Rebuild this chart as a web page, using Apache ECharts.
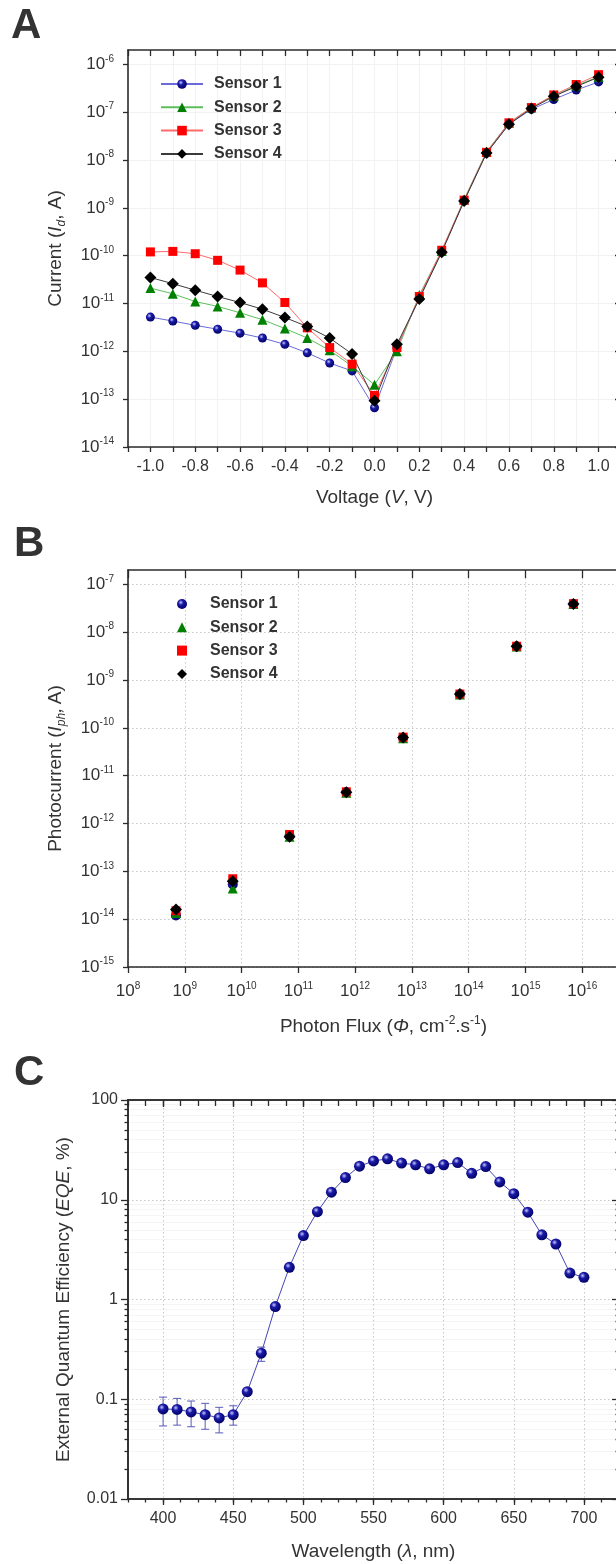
<!DOCTYPE html>
<html>
<head>
<meta charset="utf-8">
<script src="https://cdn.jsdelivr.net/npm/echarts@6/dist/echarts.min.js"></script>
<style>
  body { margin: 0; background: #fff; }
  #main { width: 616px; height: 1564px; }
</style>
</head>
<body>
<div id="main"></div>
<script>
// ---- panel A: dark current vs voltage
const voltage = [-1.0, -0.9, -0.8, -0.7, -0.6, -0.5, -0.4, -0.3, -0.2, -0.1, 0.0,
                 0.1, 0.2, 0.3, 0.4, 0.5, 0.6, 0.7, 0.8, 0.9, 1.0];
const sensor1Dark = [5.2e-12, 4.3e-12, 3.5e-12, 2.9e-12, 2.4e-12, 1.9e-12, 1.4e-12, 9.3e-13, 5.7e-13, 3.9e-13, 6.6e-14,
                     1.2e-12, 1.3e-11, 1.2e-10, 1.4e-9, 1.4e-8, 5.6e-8, 1.15e-7, 1.85e-7, 2.9e-7, 4.3e-7];
const sensor2Dark = [2.1e-11, 1.6e-11, 1.1e-11, 8.7e-12, 6.4e-12, 4.6e-12, 3.0e-12, 1.9e-12, 1.05e-12, 4.9e-13, 2.0e-13,
                     1.0e-12, 1.5e-11, 1.25e-10, 1.5e-9, 1.5e-8, 6.0e-8, 1.25e-7, 2.2e-7, 3.6e-7, 5.5e-7];
const sensor3Dark = [1.2e-10, 1.23e-10, 1.1e-10, 8.0e-11, 5.0e-11, 2.7e-11, 1.05e-11, 3.1e-12, 1.2e-12, 5.4e-13, 1.2e-13,
                     1.2e-12, 1.4e-11, 1.3e-10, 1.45e-9, 1.45e-8, 6.0e-8, 1.25e-7, 2.3e-7, 3.8e-7, 6.1e-7];
const sensor4Dark = [3.5e-11, 2.6e-11, 1.9e-11, 1.4e-11, 1.05e-11, 7.6e-12, 5.1e-12, 3.3e-12, 1.9e-12, 8.8e-13, 9.3e-14,
                     1.4e-12, 1.25e-11, 1.18e-10, 1.4e-9, 1.4e-8, 5.6e-8, 1.2e-7, 2.15e-7, 3.45e-7, 5.4e-7];
const currentTicks = [1e-14, 1e-13, 1e-12, 1e-11, 1e-10, 1e-9, 1e-8, 1e-7, 1e-6];

// ---- panel B: photocurrent vs photon flux
const photonFlux = [7e8, 7e9, 7e10, 7e11, 7e12, 7e13, 7e14, 7e15];
const sensor1Photo = [1.2e-14, 5.3e-14, 5.5e-13, 4.5e-12, 6.2e-11, 5.0e-10, 5.0e-9, 3.9e-8];
const sensor2Photo = [1.35e-14, 4.4e-14, 5.3e-13, 4.4e-12, 6.1e-11, 5.0e-10, 5.0e-9, 3.9e-8];
const sensor3Photo = [1.5e-14, 7.0e-14, 5.9e-13, 4.6e-12, 6.4e-11, 5.1e-10, 5.1e-9, 3.95e-8];
const sensor4Photo = [1.6e-14, 6.2e-14, 5.3e-13, 4.5e-12, 6.3e-11, 5.1e-10, 5.1e-9, 3.9e-8];
const photoTicks = [1e-15, 1e-14, 1e-13, 1e-12, 1e-11, 1e-10, 1e-9, 1e-8, 1e-7];
const fluxTicks = [1e8, 1e9, 1e10, 1e11, 1e12, 1e13, 1e14, 1e15, 1e16, 1e17];

// ---- panel C: EQE vs wavelength
const wavelength = [400, 410, 420, 430, 440, 450, 460, 470, 480, 490, 500, 510, 520, 530, 540, 550,
                    560, 570, 580, 590, 600, 610, 620, 630, 640, 650, 660, 670, 680, 690, 700];
const eqe = [0.080, 0.079, 0.0746, 0.070, 0.065, 0.070, 0.119, 0.29, 0.85, 2.1, 4.37, 7.6, 11.9, 16.7, 21.7, 24.5,
             25.7, 23.3, 22.4, 20.4, 22.4, 23.6, 18.4, 21.5, 15.1, 11.5, 7.5, 4.45, 3.6, 1.84, 1.67];
const errWavelength = [400, 410, 420, 430, 440, 450, 470];
const errLow = [0.054, 0.055, 0.053, 0.050, 0.046, 0.055, 0.24];
const errHigh = [0.105, 0.102, 0.096, 0.091, 0.083, 0.086, 0.333];
const eqeTicks = [0.01, 0.1, 1, 10, 100];
const eqeMinorTicks = [0.02, 0.03, 0.04, 0.05, 0.06, 0.07, 0.08, 0.09,
                       0.2, 0.3, 0.4, 0.5, 0.6, 0.7, 0.8, 0.9,
                       2, 3, 4, 5, 6, 7, 8, 9,
                       20, 30, 40, 50, 60, 70, 80, 90];
const wavelengthTicks = [400, 450, 500, 550, 600, 650, 700];

const FONT = 'Liberation Sans, Arial, sans-serif';
const AXIS_COLOR = '#2b2b2b';
const TEXT_COLOR = '#333';

function sphere(light, mid, dark) {
    return {
        type: 'radial', x: 0.38, y: 0.35, r: 0.7,
        colorStops: [{offset: 0, color: light}, {offset: 0.35, color: mid}, {offset: 1, color: dark}]
    };
}
const blueBall = sphere('#c8c8ff', '#1a1aa8', '#000060');

function pow10Label(v) {
    const lg = Math.log10(v);
    const e = Math.round(lg);
    if (Math.abs(lg - e) > 1e-6) return '';
    return '{b|10}{s|' + e + '}';
}
const powRich = {
    b: {fontSize: 17, fontFamily: FONT, color: TEXT_COLOR, lineHeight: 21},
    s: {fontSize: 10, fontFamily: FONT, color: TEXT_COLOR, verticalAlign: 'top', lineHeight: 10}
};
const nameRich = {
    n: {fontSize: 19, fontFamily: FONT, color: TEXT_COLOR, lineHeight: 24},
    i: {fontSize: 19, fontFamily: FONT, color: TEXT_COLOR, fontStyle: 'italic', lineHeight: 24},
    sub: {fontSize: 12, fontFamily: FONT, color: TEXT_COLOR, fontStyle: 'italic', verticalAlign: 'bottom', lineHeight: 12},
    sup: {fontSize: 12, fontFamily: FONT, color: TEXT_COLOR, verticalAlign: 'top', lineHeight: 12}
};

const axisLine = {show: true, onZero: false, lineStyle: {color: AXIS_COLOR, width: 1.6}};
const tickStyle = {color: AXIS_COLOR, width: 1.3};

function mirror(base, pos, extra) {
    return Object.assign({}, base, {
        position: pos,
        name: '',
        axisLabel: {show: false},
        splitLine: {show: false},
        minorTick: {show: false},
        axisTick: Object.assign({}, base.axisTick, {inside: true, length: 6})
    }, extra || {});
}

// panel A axes
const xA = {
    type: 'value', gridIndex: 0, min: -1.1, max: 1.1, interval: 0.1,
    axisLine: axisLine,
    axisTick: {show: true, length: 5, lineStyle: tickStyle},
    axisLabel: {
        margin: 12, fontSize: 16, fontFamily: FONT, color: TEXT_COLOR,
        formatter: v => {
            const k = Math.round(v * 10);
            if (k % 2 !== 0 || Math.abs(k) > 10) return '';
            return (k / 10).toFixed(1);
        }
    },
    splitLine: {show: true, lineStyle: {color: '#f2f2f2', width: 1}},
    name: '{n|Voltage (}{i|V}{n|, V)}', nameLocation: 'middle', nameGap: 39,
    nameTextStyle: {rich: nameRich}
};
const yA = {
    type: 'log', gridIndex: 0, min: 1e-14, max: 2e-6, position: 'left',
    axisLine: axisLine,
    axisTick: {show: true, length: 5, lineStyle: tickStyle, customValues: currentTicks},
    axisLabel: {margin: 14, customValues: currentTicks, formatter: pow10Label, rich: powRich},
    splitLine: {show: true, lineStyle: {color: '#f2f2f2', width: 1}},
    name: '{n|Current (}{i|I}{sub|d}{n|, A)}', nameLocation: 'middle', nameGap: 60,
    nameTextStyle: {rich: nameRich}
};

// panel B axes
const dotted = {show: true, lineStyle: {color: '#c8c8c8', width: 1, type: [1.5, 2.5]}};
const xB = {
    type: 'log', gridIndex: 1, min: 1e8, max: 1e17, position: 'bottom',
    axisLine: axisLine,
    axisTick: {show: true, length: 6, lineStyle: tickStyle, customValues: fluxTicks},
    axisLabel: {margin: 14, customValues: fluxTicks, formatter: pow10Label, rich: powRich},
    splitLine: dotted,
    name: '{n|Photon Flux (}{i|Φ}{n|, cm}{sup|-2}{n|.s}{sup|-1}{n|)}', nameLocation: 'middle', nameGap: 48,
    nameTextStyle: {rich: nameRich}
};
const yB = {
    type: 'log', gridIndex: 1, min: 1e-15, max: 2e-7, position: 'left',
    axisLine: axisLine,
    axisTick: {show: true, length: 5, lineStyle: tickStyle, customValues: photoTicks},
    axisLabel: {margin: 14, customValues: photoTicks, formatter: pow10Label, rich: powRich},
    splitLine: dotted,
    name: '{n|Photocurrent (}{i|I}{sub|ph}{i|,} {n|A)}', nameLocation: 'middle', nameGap: 60,
    nameTextStyle: {rich: nameRich}
};

// panel C axes
const xCminor = {
    type: 'value', gridIndex: 2, min: 375, max: 725, interval: 12.5, position: 'bottom',
    axisLine: axisLine,
    axisTick: {show: true, length: 3.5, lineStyle: tickStyle},
    axisLabel: {show: false},
    splitLine: {show: false}
};
const xCmajor = {
    type: 'value', gridIndex: 2, min: 375, max: 725, interval: 25, position: 'bottom',
    axisLine: axisLine,
    axisTick: {show: true, length: 6, lineStyle: tickStyle, customValues: wavelengthTicks},
    axisLabel: {margin: 12, fontSize: 16, fontFamily: FONT, color: TEXT_COLOR, customValues: wavelengthTicks},
    splitLine: dotted,
    name: '{n|Wavelength (}{i|λ}{n|, nm)}', nameLocation: 'middle', nameGap: 41,
    nameTextStyle: {rich: nameRich}
};
const yCmajor = {
    type: 'log', gridIndex: 2, min: 0.01, max: 100, position: 'left',
    axisLine: axisLine,
    axisTick: {show: true, length: 7, lineStyle: tickStyle, customValues: eqeTicks},
    axisLabel: {margin: 10, fontSize: 16, fontFamily: FONT, color: TEXT_COLOR, customValues: eqeTicks,
                formatter: v => String(v)},
    splitLine: dotted,
    name: '{n|External Quantum Efficiency (}{i|EQE}{n|, %)}', nameLocation: 'middle', nameGap: 52,
    nameTextStyle: {rich: nameRich}
};
const yCminor = {
    type: 'log', gridIndex: 2, min: 0.01, max: 100, position: 'left',
    axisLine: axisLine,
    axisTick: {show: true, length: 3.5, lineStyle: tickStyle, customValues: eqeMinorTicks},
    axisLabel: {show: false},
    splitLine: {show: true, lineStyle: {color: '#f5f5f5', width: 1}}
};

const legendText = {fontSize: 16, fontWeight: 'bold', fontFamily: FONT, color: TEXT_COLOR, lineHeight: 16};

function pairs(xs, ys) {
    return xs.map((x, i) => [x, ys[i]]);
}

function darkSeries(name, data, symbol, size, fill, line) {
    return {
        name: name, type: 'line', xAxisIndex: 0, yAxisIndex: 0,
        data: pairs(voltage, data),
        symbol: symbol, symbolSize: size,
        itemStyle: {color: fill},
        lineStyle: {color: line, width: 1},
        emphasis: {disabled: true}
    };
}
function photoSeries(name, data, symbol, size, fill) {
    return {
        name: name, type: 'scatter', xAxisIndex: 2, yAxisIndex: 2,
        data: pairs(photonFlux, data),
        symbol: symbol, symbolSize: size,
        itemStyle: {color: fill, opacity: 1},
        emphasis: {disabled: true}
    };
}

const chart = echarts.init(document.getElementById('main'));
const option = {
    backgroundColor: '#fff',
    animation: false,
    graphic: [
        {type: 'text', left: 11, top: 5, style: {text: 'A', font: 'bold 42px ' + FONT, fill: TEXT_COLOR}},
        {type: 'text', left: 14, top: 523, style: {text: 'B', font: 'bold 42px ' + FONT, fill: TEXT_COLOR}},
        {type: 'text', left: 14, top: 1052, style: {text: 'C', font: 'bold 42px ' + FONT, fill: TEXT_COLOR}}
    ],
    grid: [
        {left: 128, top: 50, width: 493, height: 397, containLabel: false, outerBoundsMode: 'none'},
        {left: 128, top: 570, width: 511, height: 397, containLabel: false, outerBoundsMode: 'none'},
        {left: 128, top: 1100, width: 491, height: 399, containLabel: false, outerBoundsMode: 'none'}
    ],
    legend: [
        {
            orient: 'vertical', left: 160, top: 76, padding: 0,
            itemWidth: 42, itemHeight: 12, itemGap: 7.3,
            data: ['Sensor 1', 'Sensor 2', 'Sensor 3', 'Sensor 4'],
            textStyle: Object.assign({padding: [0, 0, 0, 6]}, legendText),
            selectedMode: false
        },
        {
            orient: 'vertical', left: 177, top: 596, padding: 0,
            itemWidth: 10, itemHeight: 10, itemGap: 7.3,
            data: ['B Sensor 1', 'B Sensor 2', 'B Sensor 3', 'B Sensor 4'],
            formatter: n => n.replace('B ', ''),
            textStyle: Object.assign({padding: [0, 0, 0, 18]}, legendText),
            selectedMode: false
        }
    ],
    xAxis: [
        xA, mirror(xA, 'top'),
        xB, mirror(xB, 'top', {axisTick: {show: true, inside: true, length: 8, lineStyle: tickStyle, customValues: fluxTicks}}),
        xCminor, xCmajor,
        mirror(xCminor, 'top'),
        mirror(xCmajor, 'top', {axisTick: {show: true, inside: true, length: 7, lineStyle: tickStyle, customValues: wavelengthTicks}})
    ],
    yAxis: [
        yA, mirror(yA, 'right'),
        yB, mirror(yB, 'right'),
        yCmajor, yCminor,
        mirror(yCmajor, 'right', {axisTick: {show: true, inside: true, length: 7, lineStyle: tickStyle, customValues: eqeTicks}}),
        mirror(yCminor, 'right', {axisTick: {show: true, inside: true, length: 3.5, lineStyle: tickStyle, customValues: eqeMinorTicks}})
    ],
    series: [
        darkSeries('Sensor 1', sensor1Dark, 'circle', 9, blueBall, '#6a6ad8'),
        darkSeries('Sensor 2', sensor2Dark, 'triangle', 10, '#008000', '#5cbf5c'),
        darkSeries('Sensor 3', sensor3Dark, 'rect', 9, '#ff0000', '#ff6a6a'),
        darkSeries('Sensor 4', sensor4Dark, 'diamond', 12, '#000000', '#3a3a3a'),
        photoSeries('B Sensor 1', sensor1Photo, 'circle', 10, blueBall),
        photoSeries('B Sensor 2', sensor2Photo, 'triangle', 10, '#008000'),
        photoSeries('B Sensor 3', sensor3Photo, 'rect', 9, '#ff0000'),
        photoSeries('B Sensor 4', sensor4Photo, 'diamond', 12, '#000000'),
        {
            type: 'custom', xAxisIndex: 5, yAxisIndex: 4, z: 1,
            data: errWavelength.map((w, i) => [w, errLow[i], errHigh[i]]),
            encode: {x: 0, y: [1, 2]},
            renderItem: function (params, api) {
                const top = api.coord([api.value(0), api.value(2)]);
                const bot = api.coord([api.value(0), api.value(1)]);
                const w = 4;
                const st = {stroke: '#5a5ab8', lineWidth: 1};
                return {
                    type: 'group',
                    children: [
                        {type: 'line', shape: {x1: top[0], y1: top[1], x2: bot[0], y2: bot[1]}, style: st},
                        {type: 'line', shape: {x1: top[0] - w, y1: top[1], x2: top[0] + w, y2: top[1]}, style: st},
                        {type: 'line', shape: {x1: bot[0] - w, y1: bot[1], x2: bot[0] + w, y2: bot[1]}, style: st}
                    ]
                };
            }
        },
        {
            name: 'EQE', type: 'line', xAxisIndex: 5, yAxisIndex: 4, z: 3,
            data: pairs(wavelength, eqe),
            symbol: 'circle', symbolSize: 11,
            itemStyle: {color: blueBall},
            lineStyle: {color: '#4646b4', width: 1},
            emphasis: {disabled: true}
        }
    ]
};
chart.setOption(option);
</script>
</body>
</html>
